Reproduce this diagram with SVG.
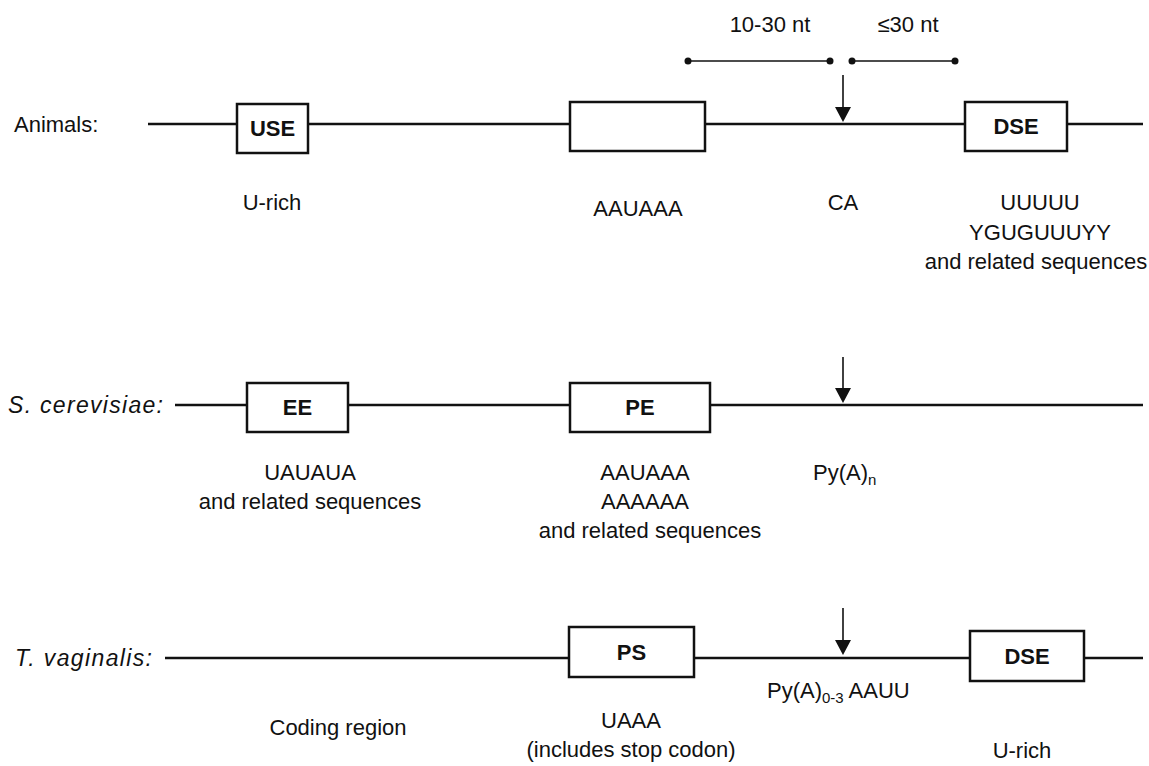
<svg xmlns="http://www.w3.org/2000/svg" width="1149" height="766" viewBox="0 0 1149 766">
<defs>
<style>
text{font-family:"Liberation Sans",Arial,sans-serif;font-size:22px;fill:#111}
.b{font-weight:bold;text-anchor:middle}
.c{text-anchor:middle}
.i{font-style:italic;font-size:23px}
.box{fill:#fff;stroke:#111;stroke-width:2.5}
.ln{stroke:#111;stroke-width:2.5;fill:none}
.thin{stroke:#111;stroke-width:1.6;fill:none}
.dot{fill:#111}
.head{fill:#111}
</style>
</defs>
<rect width="1149" height="766" fill="#fff"/>
<g id="connectors">
<line class="ln" x1="148" y1="124" x2="1143" y2="124"/>
<line class="ln" x1="175" y1="405" x2="1143" y2="405"/>
<line class="ln" x1="165" y1="658" x2="1143" y2="658"/>
<line class="thin" x1="843" y1="75" x2="843" y2="108"/>
<polygon class="head" points="835,107 851,107 843,122"/>
<line class="thin" x1="843" y1="357" x2="843" y2="390"/>
<polygon class="head" points="835,388 851,388 843,403"/>
<line class="thin" x1="843" y1="608" x2="843" y2="642"/>
<polygon class="head" points="835,640 851,640 843,655"/>
<line class="thin" x1="688" y1="61" x2="830" y2="61"/>
<line class="thin" x1="852" y1="61" x2="955" y2="61"/>
<circle class="dot" cx="688" cy="61" r="3.5"/>
<circle class="dot" cx="830" cy="61" r="3.5"/>
<circle class="dot" cx="852" cy="61" r="3.5"/>
<circle class="dot" cx="955" cy="61" r="3.5"/>
</g>
<g id="animals">
<text x="14" y="132">Animals:</text>
<g id="use"><rect class="box" x="237" y="104" width="71" height="49"/><text class="b" x="272.5" y="136">USE</text></g>
<g id="aauaaa"><rect class="box" x="570" y="102" width="135" height="49"/></g>
<g id="dse1"><rect class="box" x="965" y="102" width="102" height="49"/><text class="b" x="1016" y="134">DSE</text></g>
<text class="c" x="770" y="32">10-30 nt</text>
<text class="c" x="908" y="32">≤30 nt</text>
<text class="c" x="272" y="210">U-rich</text>
<text class="c" x="638" y="216">AAUAAA</text>
<text class="c" x="843" y="210">CA</text>
<text class="c" x="1040" y="210">UUUUU</text>
<text class="c" x="1040" y="240">YGUGUUUYY</text>
<text class="c" x="1036" y="269">and related sequences</text>
</g>
<g id="scerevisiae">
<text class="i" x="8" y="413" textLength="155">S. cerevisiae:</text>
<g id="ee"><rect class="box" x="247" y="383" width="101" height="49"/><text class="b" x="297.5" y="415">EE</text></g>
<g id="pe"><rect class="box" x="570" y="383" width="140" height="49"/><text class="b" x="640" y="415">PE</text></g>
<text class="c" x="310" y="480">UAUAUA</text>
<text class="c" x="310" y="509">and related sequences</text>
<text class="c" x="645" y="480">AAUAAA</text>
<text class="c" x="645" y="509">AAAAAA</text>
<text class="c" x="650" y="538">and related sequences</text>
<text x="813" y="480">Py(A)<tspan font-size="15" dy="5">n</tspan></text>
</g>
<g id="tvaginalis">
<text class="i" x="15" y="666" textLength="137">T. vaginalis:</text>
<g id="ps"><rect class="box" x="569" y="627" width="125" height="50"/><text class="b" x="631.5" y="660">PS</text></g>
<g id="dse2"><rect class="box" x="970" y="631" width="114" height="50"/><text class="b" x="1027" y="664">DSE</text></g>
<text x="767" y="698">Py(A)<tspan font-size="15" dy="5">0-3</tspan><tspan dy="-5"> AAUU</tspan></text>
<text class="c" x="338" y="735">Coding region</text>
<text class="c" x="631" y="728">UAAA</text>
<text class="c" x="631" y="757">(includes stop codon)</text>
<text class="c" x="1022" y="758">U-rich</text>
</g>
</svg>
